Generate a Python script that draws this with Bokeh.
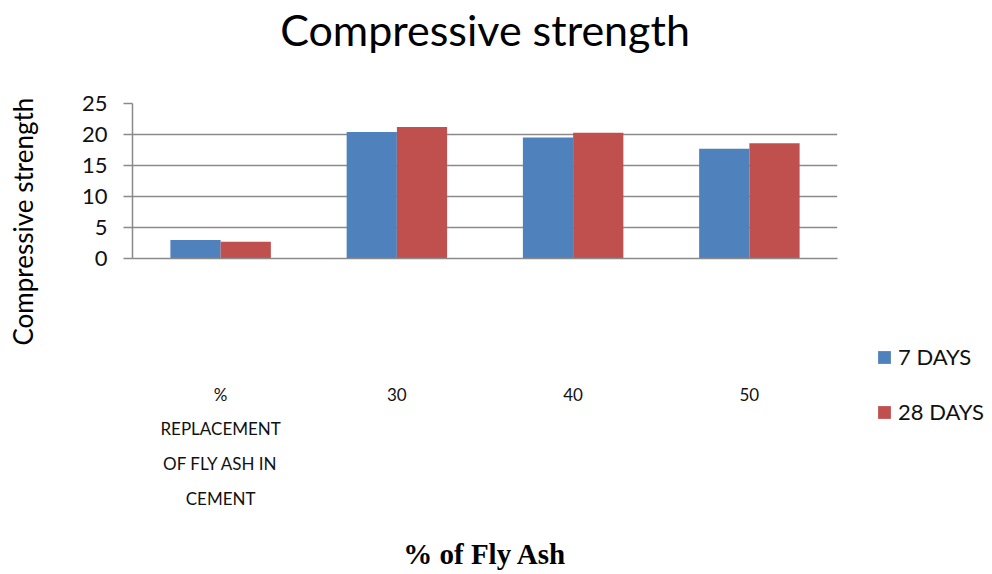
from bokeh.plotting import figure
from bokeh.models import (ColumnDataSource, FactorRange, Range1d, FixedTicker,
                          Legend, LegendItem, Title)
from bokeh.transform import dodge
from bokeh.embed import file_html
from bokeh.resources import INLINE

# ---- data ----
categories = ["%\nREPLACEMENT\nOF FLY ASH IN\nCEMENT", "30", "40", "50"]
days7 = [3.0, 20.4, 19.5, 17.7]
days28 = [2.7, 21.2, 20.3, 18.6]
series_names = ["7 DAYS", "28 DAYS"]
series_colors = ["#4F81BD", "#C0504D"]
y_ticks = [0, 5, 10, 15, 20, 25]

chart_title = "Compressive strength"
y_title = "Compressive strength"
x_title = "% of Fly Ash"

source = ColumnDataSource(dict(cat=categories, d7=days7, d28=days28))

FONT = "Lato"
GRID = "#8a8a8a"

p = figure(x_range=FactorRange(factors=categories, range_padding=0),
           y_range=Range1d(0, 25), title=None,
           frame_width=705, frame_height=155,
           output_backend="svg", toolbar_location=None,
           min_border_left=132, min_border_right=155,
           min_border_top=103, min_border_bottom=316)

blue = p.vbar(x=dodge("cat", -0.1425, range=p.x_range), top="d7", width=0.285,
              source=source, fill_color=series_colors[0], line_color=None)
red = p.vbar(x=dodge("cat", 0.1425, range=p.x_range), top="d28", width=0.285,
             source=source, fill_color=series_colors[1], line_color=None)

# spacer between frame and main title (blank), then the main title
p.add_layout(Title(text=" ", text_font_size="10px", standoff=36,
                   text_color="white"), "above")
main_title = Title(text=chart_title, align="center", offset=5, standoff=0,
                   text_font=FONT, text_font_size="43px",
                   text_font_style="normal", text_color="#000000")
p.add_layout(main_title, "above")

p.outline_line_color = None
p.background_fill_color = "white"
p.border_fill_color = "white"

# y axis
p.yaxis.ticker = FixedTicker(ticks=y_ticks)
p.yaxis.minor_tick_line_color = None
p.yaxis.major_tick_out = 9
p.yaxis.major_tick_in = 0
p.yaxis.major_tick_line_color = GRID
p.yaxis.major_tick_line_width = 1.5
p.yaxis.axis_line_color = GRID
p.yaxis.axis_line_width = 1.5
p.yaxis.major_label_standoff = 16
p.yaxis.major_label_text_font = FONT
p.yaxis.major_label_text_font_size = "22px"
p.yaxis.major_label_text_color = "#111111"

p.ygrid.ticker = FixedTicker(ticks=y_ticks)
p.ygrid.grid_line_color = GRID
p.ygrid.grid_line_width = 1.5
p.xgrid.grid_line_color = None

# spacer between y axis and its title (blank), then the title itself
p.add_layout(Title(text=" ", text_font_size="10px", standoff=27,
                   text_color="white"), "left")
ytitle = Title(text=y_title, align="left", offset=-87, standoff=0,
               text_font=FONT, text_font_size="26px",
               text_font_style="normal", text_color="#000000")
p.add_layout(ytitle, "left")

# x axis
p.xaxis.axis_line_color = GRID
p.xaxis.axis_line_width = 1.5
p.xaxis.major_tick_line_color = None
p.xaxis.major_tick_out = 0
p.xaxis.major_tick_in = 0
p.xaxis.major_label_standoff = 125
p.xaxis.major_label_text_font = FONT
p.xaxis.major_label_text_font_size = "17px"
p.xaxis.major_label_text_line_height = 1.66
p.xaxis.major_label_text_color = "#111111"
p.xaxis.axis_label = x_title
p.xaxis.axis_label_text_font = "Liberation Serif"
p.xaxis.axis_label_text_font_style = "bold"
p.xaxis.axis_label_text_font_size = "29px"
p.xaxis.axis_label_text_color = "#000000"
p.xaxis.axis_label_standoff = 26

legend = Legend(items=[LegendItem(label=series_names[0], renderers=[blue]),
                       LegendItem(label=series_names[1], renderers=[red])],
                location=(39, -167), orientation="vertical",
                glyph_width=16, glyph_height=16, label_height=24,
                spacing=28, padding=0, margin=0, label_standoff=6,
                label_text_font=FONT, label_text_font_size="22px",
                label_text_color="#111111",
                border_line_color=None, background_fill_alpha=0)
p.add_layout(legend, "right")

open("out.html", "w").write(file_html(p, INLINE))
